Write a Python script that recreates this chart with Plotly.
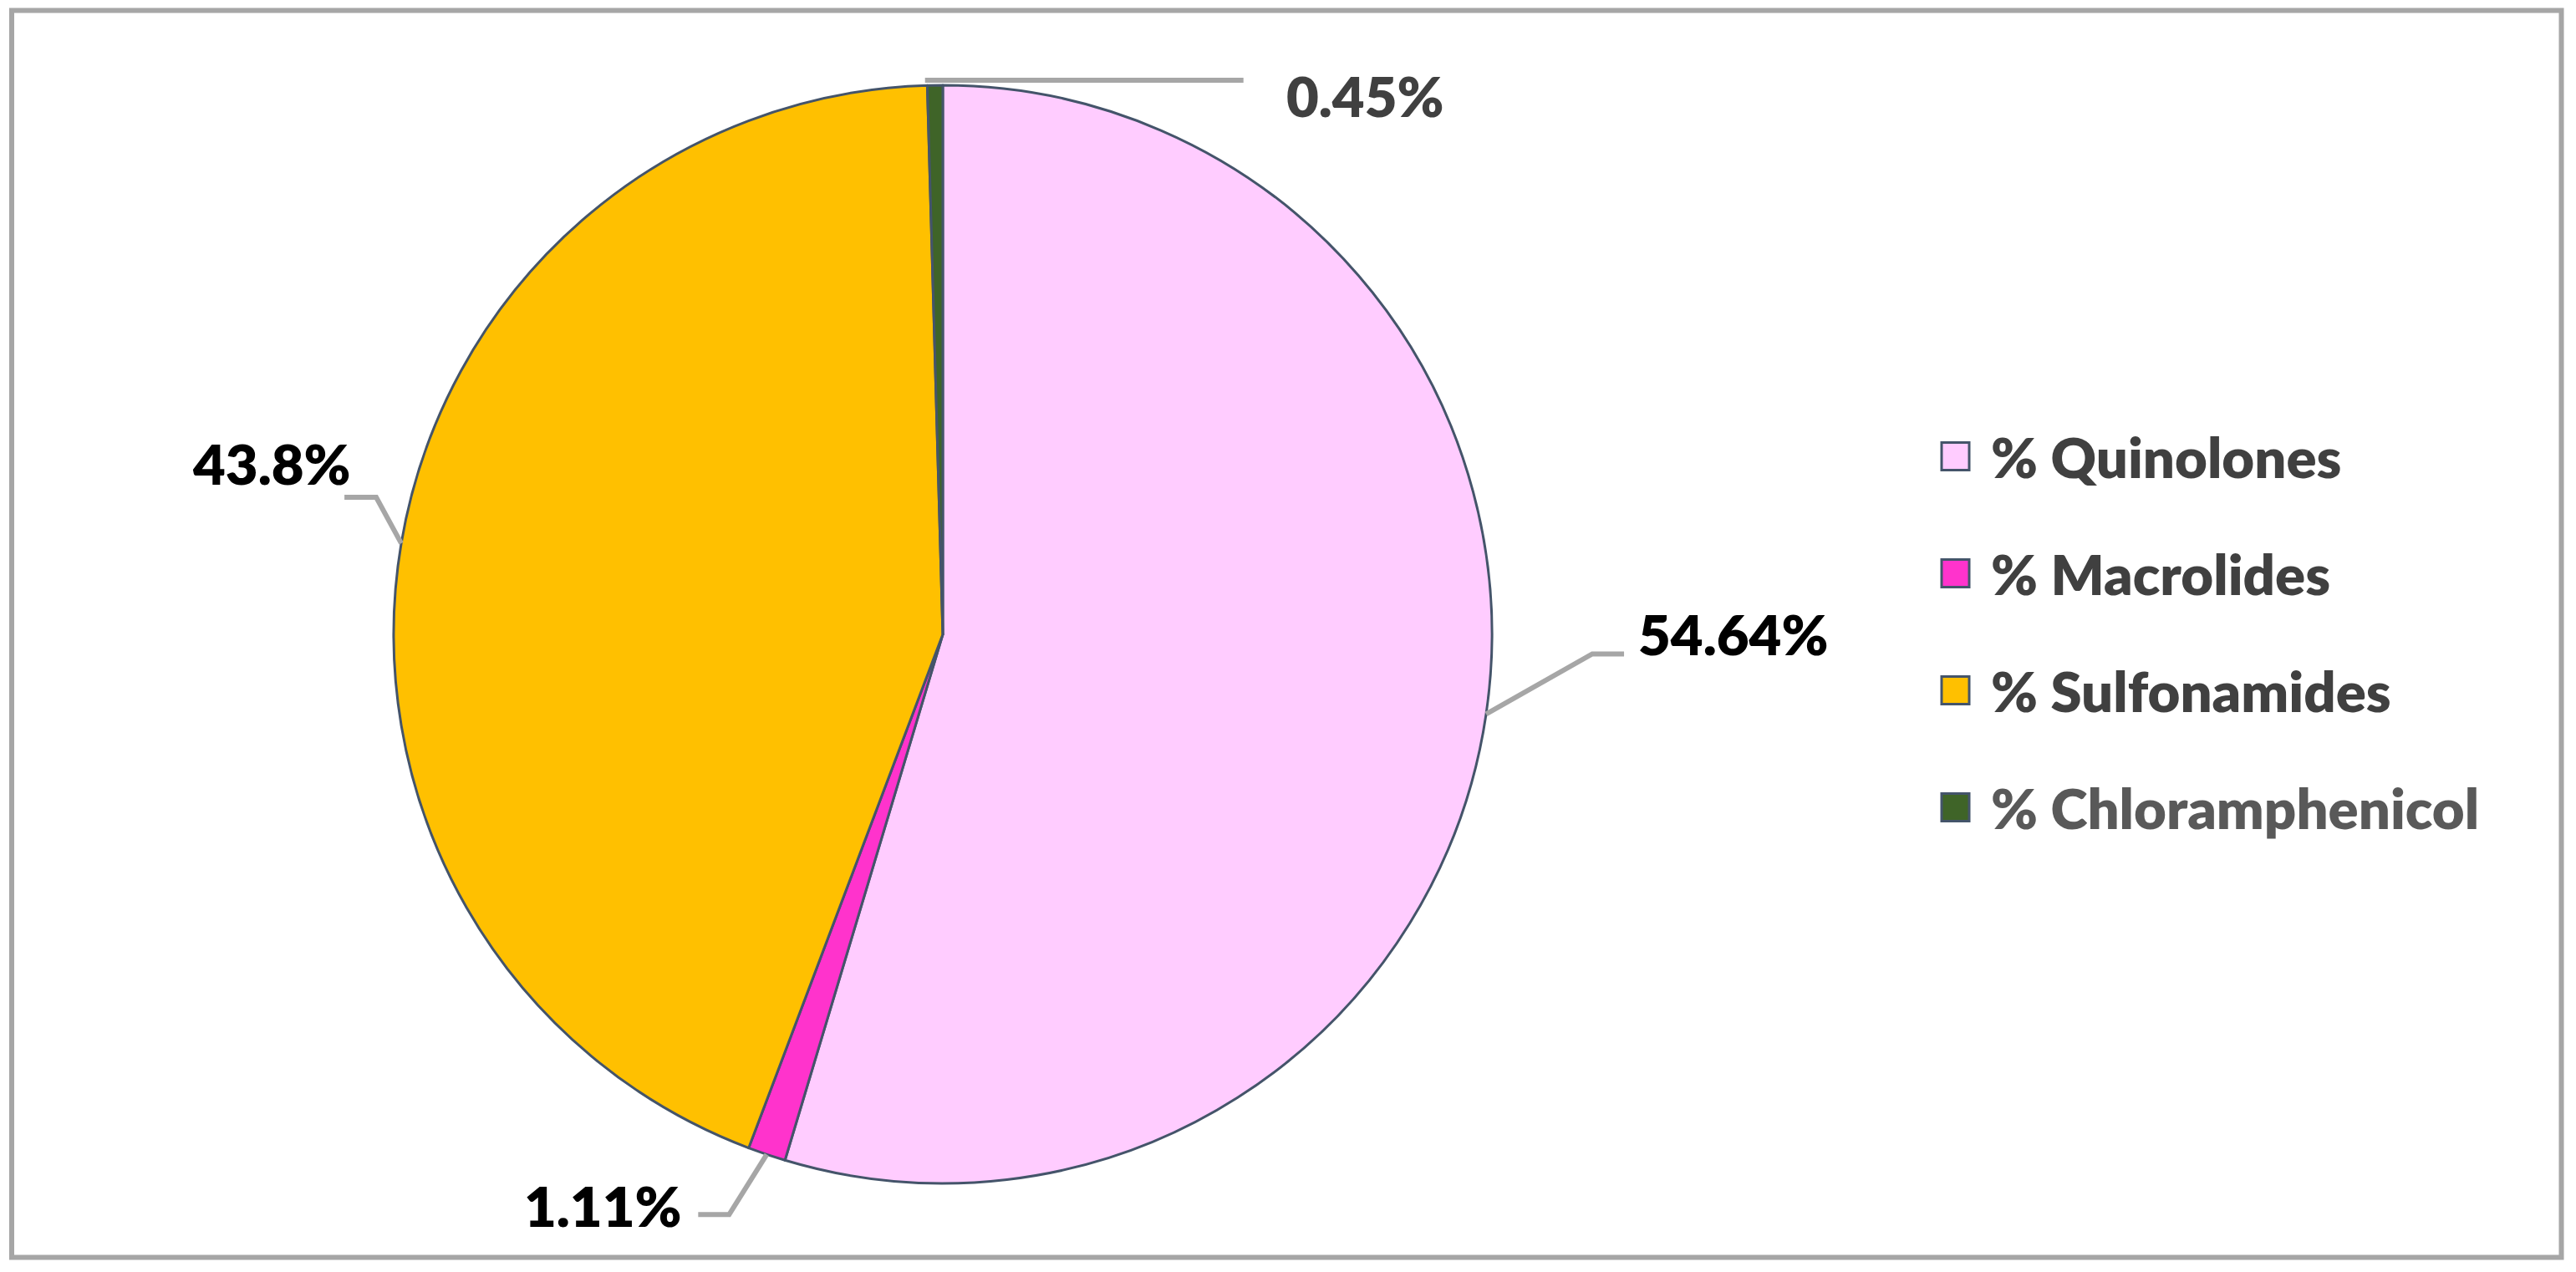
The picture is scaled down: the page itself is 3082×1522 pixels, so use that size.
import math
import plotly.graph_objects as go

# ---- data ----
categories = ["% Quinolones", "% Macrolides", "% Sulfonamides", "% Chloramphenicol"]
values = [54.64, 1.11, 43.8, 0.45]
value_labels = ["54.64%", "1.11%", "43.8%", "0.45%"]

# ---- styles ----
colors = ["#FFCCFF", "#FF33CC", "#FFC000", "#3F6428"]
label_colors = ["#000000", "#000000", "#000000", "#404040"]
legend_text_colors = ["#404040", "#404040", "#404040", "#595959"]
FONT = "Lato, 'Open Sans', sans-serif"
WEIGHT = 800

W, H = 3082, 1522
CX, CY, R = 1128, 759, 657  # pie centre / radius in px

# leader line offsets (px, relative to slice anchor) and label placement
leader_pts = [
    [(0, 0), (127, -72), (165, -72)],
    [(0, 0), (-45, 72), (-82, 72)],
    [(0, 0), (-30, -55), (-68, -55)],
    [(-12, -6), (369, -6)],
]
text_off = [(180, -96), (-99, 61), (-58, -96), (418, 12)]
text_side = ["left", "right", "right", "left"]


def px(x):
    return x / W


def py(y):
    return 1 - y / H


fig = go.Figure()
fig.add_trace(go.Pie(
    labels=categories,
    values=values,
    sort=False,
    direction="clockwise",
    rotation=0,
    textinfo="none",
    hoverinfo="label+percent",
    marker=dict(colors=colors, line=dict(color="#44546A", width=3)),
    domain=dict(x=[px(CX - R), px(CX + R)], y=[py(CY + R), py(CY - R)]),
    showlegend=False,
))

shapes = []
annotations = []
total = sum(values)
cum = 0.0
for i, v in enumerate(values):
    mid = (cum + v / 2) / total * 2 * math.pi
    cum += v
    ax = CX + R * math.sin(mid)
    ay = CY - R * math.cos(mid)
    pts = [(ax + dx, ay + dy) for dx, dy in leader_pts[i]]
    path = "M " + " L ".join(f"{px(x):.5f},{py(y):.5f}" for x, y in pts)
    shapes.append(dict(type="path", path=path, xref="paper", yref="paper",
                       line=dict(color="#A6A6A6", width=6)))
    tx, ty = ax + text_off[i][0], ay + text_off[i][1]
    annotations.append(dict(
        x=px(tx), y=py(ty), xref="paper", yref="paper",
        text=value_labels[i], showarrow=False,
        xanchor=text_side[i], yanchor="middle",
        font=dict(family=FONT, size=67, color=label_colors[i], weight=WEIGHT),
    ))

# legend (custom, large squares)
LEG_X, LEG_Y0, LEG_DY, SQ = 2323, 546, 140, 33
for i, name in enumerate(categories):
    yc = LEG_Y0 + i * LEG_DY
    shapes.append(dict(type="rect", xref="paper", yref="paper",
                       x0=px(LEG_X), x1=px(LEG_X + SQ),
                       y0=py(yc + SQ / 2), y1=py(yc - SQ / 2),
                       fillcolor=colors[i], line=dict(color="#44546A", width=3)))
    annotations.append(dict(
        x=px(LEG_X + SQ + 24), y=py(yc), xref="paper", yref="paper",
        text=name, showarrow=False, xanchor="left", yanchor="middle",
        font=dict(family=FONT, size=67, color=legend_text_colors[i], weight=WEIGHT),
    ))

# outer border
shapes.append(dict(type="rect", xref="paper", yref="paper",
                   x0=px(14), x1=px(3064.5), y0=py(1504.5), y1=py(12.5),
                   line=dict(color="#A6A6A6", width=6), fillcolor="rgba(0,0,0,0)"))

fig.update_layout(
    width=W, height=H,
    margin=dict(l=0, r=0, t=0, b=0),
    paper_bgcolor="white", plot_bgcolor="white",
    shapes=shapes, annotations=annotations,
    font=dict(family=FONT),
)

fig.write_html("out.html", config={"displayModeBar": False},
               post_script="document.body.style.margin='0';")
